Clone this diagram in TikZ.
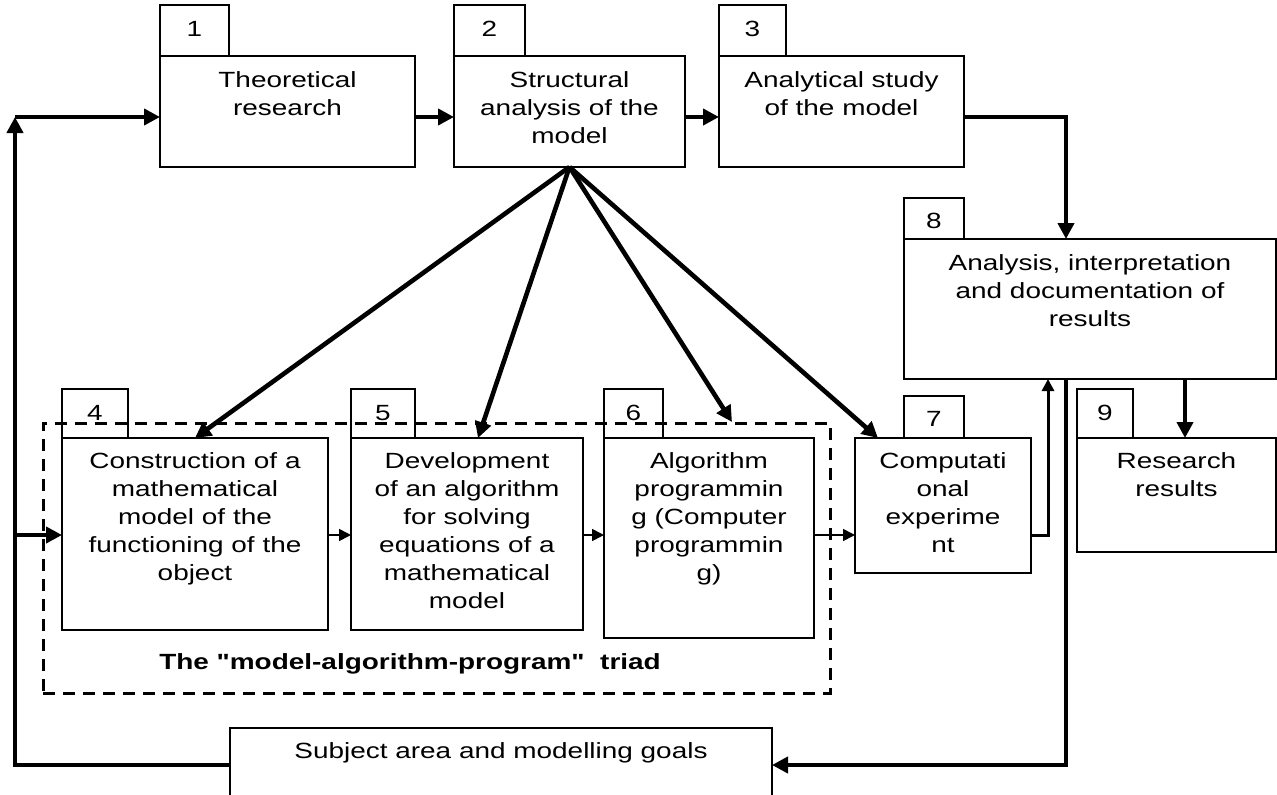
\documentclass[tikz,border=0pt]{standalone}
\usepackage{fontspec}
\setmainfont{Liberation Sans}[FakeStretch=1.27,Ligatures=TeXOff]
\usetikzlibrary{arrows.meta,calc}
\begin{document}
\begin{tikzpicture}[x=1pt,y=-1pt,
  box/.style={draw,line width=1.5pt,inner sep=0pt,outer sep=0pt,anchor=north west},
  txt/.style={anchor=north,align=center,inner sep=0pt,font=\fontsize{22}{28}\selectfont},
  num/.style={anchor=base,inner sep=0pt,font=\fontsize{22}{28}\selectfont},
  bigarrow/.style={line width=4.6pt,-{Triangle[length=16pt,width=16pt]}},
  midarrow/.style={line width=3pt,-{Triangle[length=12pt,width=12pt]}},
  smallarrow/.style={line width=1.6pt,-{Triangle[length=12pt,width=12pt]}},
  dashbox/.style={draw,line width=3pt,dash pattern=on 12pt off 8pt,inner sep=0pt,outer sep=0pt,anchor=north west}
]
\useasboundingbox (0,0) rectangle (1277,795);
\clip (0,0) rectangle (1277,795);

% dashed triad frame
\node[dashbox,minimum width=787pt,minimum height=270pt] (triadbox) at (43,423) {};
\node[anchor=base,inner sep=0pt,font=\bfseries\fontsize{22}{28}\selectfont] (triad) at (410,669) {The "model-algorithm-program"\ \ triad};

% tabs and boxes
\node[box,minimum width=69pt,minimum height=51pt] (t1) at (160,5) {};
\node[box,minimum width=255pt,minimum height=111pt] (b1) at (160,56) {};
\node[box,minimum width=71pt,minimum height=51pt] (t2) at (454,5) {};
\node[box,minimum width=231pt,minimum height=111pt] (b2) at (454,56) {};
\node[box,minimum width=67pt,minimum height=51pt] (t3) at (719,5) {};
\node[box,minimum width=245pt,minimum height=111pt] (b3) at (719,56) {};
\node[box,minimum width=60pt,minimum height=41pt] (t8) at (904,198) {};
\node[box,minimum width=372pt,minimum height=140pt] (b8) at (904,239) {};
\node[box,minimum width=66pt,minimum height=49pt] (t4) at (62,389) {};
\node[box,minimum width=266pt,minimum height=192pt] (b4) at (62,438) {};
\node[box,minimum width=64pt,minimum height=49pt] (t5) at (351,389) {};
\node[box,minimum width=232pt,minimum height=192pt] (b5) at (351,438) {};
\node[box,minimum width=59pt,minimum height=49pt] (t6) at (604,389) {};
\node[box,minimum width=210pt,minimum height=200pt] (b6) at (604,438) {};
\node[box,minimum width=60pt,minimum height=42pt] (t7) at (904,396) {};
\node[box,minimum width=176pt,minimum height=135pt] (b7) at (855,438) {};
\node[box,minimum width=56pt,minimum height=49pt] (t9) at (1077,389) {};
\node[box,minimum width=199pt,minimum height=114pt] (b9) at (1077,438) {};
\node[box,minimum width=542pt,minimum height=80pt] (subj) at (230,728) {};

% numbers
\node[num] (n1) at ($(t1.north)+(0,31)$) {1};
\node[num] (n2) at ($(t2.north)+(0,31)$) {2};
\node[num] (n3) at ($(t3.north)+(0,31)$) {3};
\node[num] (n8) at ($(t8.north)+(0,30)$) {8};
\node[num] (n4) at ($(t4.north)+(0,31)$) {4};
\node[num] (n5) at ($(t5.north)+(0,31)$) {5};
\node[num] (n6) at ($(t6.north)+(0,31)$) {6};
\node[num] (n7) at ($(t7.north)+(0,30)$) {7};
\node[num] (n9) at ($(t9.north)+(0,31)$) {9};

% texts
\node[txt] (x1) at ($(b1.north)+(0,11.4)$) {\strut Theoretical\\research};
\node[txt] (x2) at ($(b2.north)+(0,11.4)$) {\strut Structural\\analysis of the\\model};
\node[txt] (x3) at ($(b3.north)+(0,11.4)$) {\strut Analytical study\\of the model};
\node[txt] (x8) at ($(b8.north)+(0,11.4)$) {\strut Analysis, interpretation\\and documentation of\\results};
\node[txt] (x4) at ($(b4.north)+(0,11)$) {\strut Construction of a\\mathematical\\model of the\\functioning of the\\object};
\node[txt] (x5) at ($(b5.north)+(0,11)$) {\strut Development\\of an algorithm\\for solving\\equations of a\\mathematical\\model};
\node[txt] (x6) at ($(b6.north)+(0,11)$) {\strut Algorithm\\programmin\\g (Computer\\programmin\\g)};
\node[txt] (x7) at ($(b7.north)+(0,11)$) {\strut Computati\\onal\\experime\\nt};
\node[txt] (x9) at ($(b9.north)+(0,11)$) {\strut Research\\results};
\node[txt] (xs) at ($(subj.north)+(0,10.5)$) {\strut Subject area and modelling goals};

% coordinates
\coordinate (ytop) at (15,117);
\coordinate (ymid) at (15,535);
\coordinate (ybot) at (15,765);
\coordinate (xr) at (1066,765);
\coordinate (x78) at (1048,535);
\coordinate (x89) at (1185,0);
\coordinate (a6) at (732,422);

% connectors
\draw[bigarrow] ($(subj.north west)+(0,37)$) -- (ybot) -- (ytop);
\draw[bigarrow] (ytop) -- (ytop -| b1.west);
\draw[bigarrow] (ytop -| b1.east) -- (ytop -| b2.west);
\draw[bigarrow] (ytop -| b2.east) -- (ytop -| b3.west);
\draw[bigarrow] (ytop -| b3.east) -| (xr |- b8.north);
\draw[bigarrow] (xr |- b8.south) -- (xr) -- (xr -| subj.east);
\draw[bigarrow] (x89 |- b8.south) -- (x89 |- b9.north);
\draw[midarrow] (x78 -| b7.east) -- (x78) -- (x78 |- b8.south);
\draw[bigarrow] (ymid) -- (ymid -| b4.west);
\draw[smallarrow] (ymid -| b4.east) -- (ymid -| b5.west);
\draw[smallarrow] (ymid -| b5.east) -- (ymid -| b6.west);
\draw[smallarrow] (ymid -| b6.east) -- (ymid -| b7.west);
\draw[bigarrow] (b2.south) -- (b4.north);
\draw[bigarrow] (b2.south) -- ($(b5.north)+(11,0)$);
\draw[bigarrow] (b2.south) -- (a6);
\draw[bigarrow] (b2.south) -- ($(b7.north west)+(23,0)$);
\end{tikzpicture}
\end{document}
